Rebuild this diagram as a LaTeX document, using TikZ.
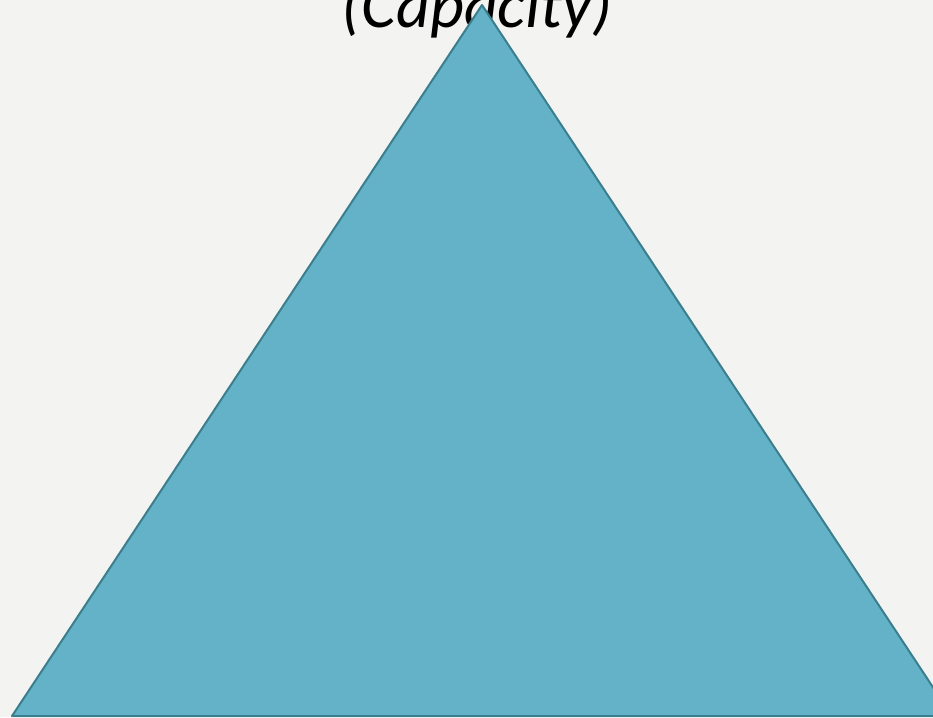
\documentclass[tikz,border=0pt]{standalone}
\usepackage{fontspec}
\setmainfont{Carlito}
\usepackage{tikz}
\usetikzlibrary{positioning}
\usepackage{xcolor}
\definecolor{pagegrey}{HTML}{F3F3F1}
\definecolor{pyrfill}{HTML}{63B2C7}
\definecolor{pyrline}{HTML}{3B7F8E}

\tikzset{
  pyramid/.style={fill=pyrfill, draw=pyrline, line width=2pt, line join=round},
  toplabel/.style={font=\fontsize{66}{70}\selectfont\itshape, text=black, inner sep=0pt, anchor=base}
}

\begin{document}
\begin{tikzpicture}[x=1pt, y=-1pt]
      \useasboundingbox (0,0) rectangle (933,717);
      \clip (0,0) rectangle (933,717);
      \fill[pagegrey] (0,0) rectangle (933,717);
      \node[toplabel] (capacity) at (477, 28) {(Capacity)};
      \coordinate (apex) at (482, 5);
      \coordinate (baseleft) at (12, 716);
      \coordinate (baseright) at (952, 716);
      \draw[pyramid] (apex) -- (baseright) -- (baseleft) -- cycle;
    \end{tikzpicture}
\end{document}
